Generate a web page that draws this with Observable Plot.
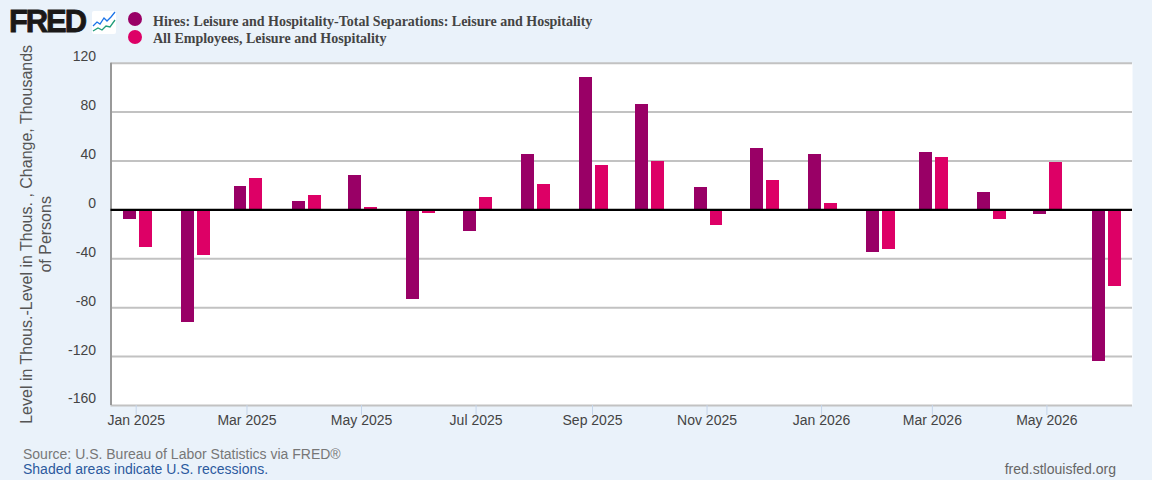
<!DOCTYPE html>
<html>
<head>
<meta charset="utf-8">
<script src="https://cdn.jsdelivr.net/npm/d3@7"></script>
<script src="https://cdn.jsdelivr.net/npm/@observablehq/plot@0.6"></script>
<style>
html,body{margin:0;padding:0;background:#eaf2fa;width:1152px;height:480px;overflow:hidden}
#root{position:relative;width:1152px;height:480px;font-family:"Liberation Sans",Arial,sans-serif}
#root svg.chart{position:absolute;left:0;top:0;display:block}
.abs{position:absolute;white-space:nowrap}
.logo{left:9px;top:4px;font:900 31px/36px "Liberation Sans",Arial,sans-serif;color:#1a1818;letter-spacing:-2.1px;-webkit-text-stroke:.8px #1a1818}
.lg{left:153px;font:bold 14px/16px "Liberation Serif","Times New Roman",serif;color:#444}
.dot{width:14px;height:14px;border-radius:50%;left:128px}
.ft{font-size:14px;line-height:16px}
</style>
</head>
<body>
<div id="root"></div>
<script>
const months = ["2025-01","2025-02","2025-03","2025-04","2025-05","2025-06","2025-07","2025-08","2025-09","2025-10","2025-11","2025-12","2026-01","2026-02","2026-03","2026-04","2026-05","2026-06"];
const netHires = [-8,-92,19,7,28,-73,-18,45,108,86,18,50,45,-35,47,14,-4,-124];
const employees = [-31,-37,26,12,2,-3,10,21,36,40,-13,24,5,-32,43,-8,39,-63];
const seriesNames = ["Hires: Leisure and Hospitality-Total Separations: Leisure and Hospitality","All Employees, Leisure and Hospitality"];
const seriesColors = ["#990066","#dd0066"];
const yTicks = [120,80,40,0,-40,-80,-120,-160];
const xTickMonths = ["2025-01","2025-03","2025-05","2025-07","2025-09","2025-11","2026-01","2026-03","2026-05"];
const yLabel = "Level in Thous.-Level in Thous. , Change, Thousands\nof Persons";
const xDomain = ["2024-12-18T14:00Z","2026-06-15T14:00Z"];

const date = m => new Date(m + "-01T00:00Z");
const shift = (d, days) => new Date(+d + days * 864e5);
const table = months.flatMap((m, i) => [
  {start: shift(date(m), -6.9), end: date(m), value: netHires[i], series: seriesNames[0]},
  {start: shift(date(m), 1.6), end: shift(date(m), 8.5), value: employees[i], series: seriesNames[1]}
]);

const chart = Plot.plot({
  width: 1152, height: 480,
  marginLeft: 110.5, marginRight: 20, marginTop: 62.7, marginBottom: 75,
  style: {background: "transparent", fontFamily: "'Liberation Sans',Arial,sans-serif", fontSize: "14px", overflow: "visible"},
  x: {type: "utc", domain: xDomain.map(d => new Date(d))},
  y: {domain: [-160, 120]},
  color: {domain: seriesNames, range: seriesColors},
  marks: [
    Plot.frame({fill: "white", stroke: null}),
    Plot.ruleY(yTicks, {stroke: "#c2c2c2", strokeWidth: 2}),
    Plot.ruleX([0], {x: () => new Date(xDomain[0]), stroke: "#999", strokeWidth: 2}),
    Plot.rectY(table, {x1: "start", x2: "end", y: "value", fill: "series", shapeRendering: "crispEdges"}),
    Plot.ruleY([0], {stroke: "#000", strokeWidth: 2.4}),
    Plot.axisX({ticks: xTickMonths.map(date), tickFormat: d3.utcFormat("%b %Y"), tickSize: 10, tickPadding: 0, stroke: "#c5d5ea", fill: "#444", fontSize: 14, label: null, anchor: "bottom", textStroke: "none"}),
    Plot.axisY({ticks: yTicks, tickSize: 0, tickPadding: 15, fill: "#444", fontSize: 14, label: null, dy: -6.5, anchor: "left", tickFormat: d => String(d)}),
    Plot.text([yLabel], {frameAnchor: "left", textAnchor: "middle", rotate: -90, dx: -76, fontSize: 16, fill: "#555", lineHeight: 1.2})
  ]
});
chart.classList.add("chart");
const root = document.getElementById("root");
root.appendChild(chart);

function add(cls, text, css) {
  const el = document.createElement("div");
  el.className = "abs " + cls;
  if (text) el.textContent = text;
  Object.assign(el.style, css || {});
  root.appendChild(el);
  return el;
}
add("logo", "FRED");
const icon = add("", "", {left: "92px", top: "11px", width: "24px", height: "23px", background: "#fff", borderRadius: "2px"});
icon.innerHTML = '<svg width="24" height="23" viewBox="0 0 24 23"><polyline points="1,15 5,11 8,13 12,7 15,10 19,6 23,1" fill="none" stroke="#1a73e8" stroke-width="1.3"/><polyline points="1,20 6,17 10,19 14,15 18,16 23,9" fill="none" stroke="#1f9d7a" stroke-width="1.3"/></svg>';
seriesNames.forEach((name, i) => {
  add("dot", "", {top: (12 + i * 18) + "px", background: seriesColors[i]});
  add("lg", name, {top: (14 + i * 17) + "px"});
});
add("ft", "Source: U.S. Bureau of Labor Statistics via FRED®", {left: "23px", top: "446px", color: "#777"});
add("ft", "Shaded areas indicate U.S. recessions.", {left: "23px", top: "461px", color: "#2c5a9e"});
add("ft", "fred.stlouisfed.org", {right: "36px", top: "461px", color: "#666"});
</script>
</body>
</html>
